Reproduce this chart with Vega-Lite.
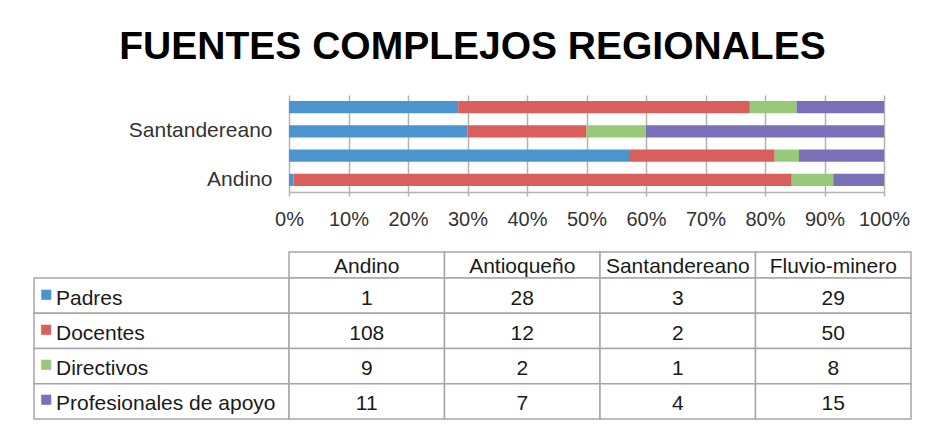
{
  "$schema": "https://vega.github.io/schema/vega-lite/v6.json",
  "title": {"text": "FUENTES COMPLEJOS REGIONALES", "fontSize": 39, "fontWeight": "bold", "color": "#000000", "anchor": "middle", "offset": 28, "font": "Liberation Sans"},
  "padding": {"left": 33, "top": 28, "right": 0, "bottom": 0},
  "background": "#ffffff",
  "config": {"view": {"stroke": null}, "font": "Liberation Sans"},
  "datasets": {
    "d": [
      {"region": "Andino", "fuente": "Padres", "valor": 1},
      {"region": "Andino", "fuente": "Docentes", "valor": 108},
      {"region": "Andino", "fuente": "Directivos", "valor": 9},
      {"region": "Andino", "fuente": "Profesionales de apoyo", "valor": 11},
      {"region": "Antioqueño", "fuente": "Padres", "valor": 28},
      {"region": "Antioqueño", "fuente": "Docentes", "valor": 12},
      {"region": "Antioqueño", "fuente": "Directivos", "valor": 2},
      {"region": "Antioqueño", "fuente": "Profesionales de apoyo", "valor": 7},
      {"region": "Santandereano", "fuente": "Padres", "valor": 3},
      {"region": "Santandereano", "fuente": "Docentes", "valor": 2},
      {"region": "Santandereano", "fuente": "Directivos", "valor": 1},
      {"region": "Santandereano", "fuente": "Profesionales de apoyo", "valor": 4},
      {"region": "Fluvio-minero", "fuente": "Padres", "valor": 29},
      {"region": "Fluvio-minero", "fuente": "Docentes", "valor": 50},
      {"region": "Fluvio-minero", "fuente": "Directivos", "valor": 8},
      {"region": "Fluvio-minero", "fuente": "Profesionales de apoyo", "valor": 15}
    ]
  },
  "bounds": "flush",
  "columns": 2,
  "spacing": {"row": 0, "column": 0},
  "concat": [
    {
      "width": 255, "height": 97,
      "data": {"name": "d"},
      "transform": [{"filter": "false"}],
      "mark": {"type": "point", "opacity": 0},
      "encoding": {}
    },
    {
      "width": 595, "height": 97,
      "data": {"name": "d"},
      "transform": [{"calculate": "indexof(['Padres','Docentes','Directivos','Profesionales de apoyo'], datum.fuente)", "as": "orden"}],
      "mark": {"type": "bar"},
      "encoding": {
        "y": {
          "field": "region", "type": "nominal",
          "sort": ["Fluvio-minero", "Santandereano", "Antioqueño", "Andino"],
          "scale": {"paddingInner": 0.5, "paddingOuter": 0.25},
          "axis": {"title": null, "values": ["Santandereano", "Andino"], "ticks": false, "domain": false, "labelFontSize": 21, "labelColor": "#333333", "labelPadding": 17}
        },
        "x": {
          "field": "valor", "type": "quantitative", "aggregate": "sum", "stack": "normalize",
          "axis": {"title": null, "values": [0, 0.1, 0.2, 0.3, 0.4, 0.5, 0.6, 0.7, 0.8, 0.9, 1], "format": ".0%", "labelFontSize": 20, "labelColor": "#333333", "labelPadding": 13, "labelFlush": false, "gridColor": "#b3b3b3", "gridWidth": 1.5, "domainColor": "#b3b3b3", "domainWidth": 1.5, "tickColor": "#b3b3b3", "tickSize": 4, "tickWidth": 1.5}
        },
        "color": {
          "field": "fuente", "type": "nominal",
          "sort": ["Padres", "Docentes", "Directivos", "Profesionales de apoyo"],
          "scale": {"domain": ["Padres", "Docentes", "Directivos", "Profesionales de apoyo"], "range": ["#4a95cf", "#d95f5a", "#97c979", "#7a71b8"]},
          "legend": null
        },
        "order": {"field": "orden", "type": "quantitative", "sort": "ascending"}
      }
    },
    {
      "width": 255, "height": 60,
      "data": {"name": "d"},
      "transform": [{"filter": "false"}],
      "mark": {"type": "point", "opacity": 0},
      "encoding": {}
    },
    {
      "width": 595, "height": 60,
      "data": {"name": "d"},
      "transform": [{"filter": "false"}],
      "mark": {"type": "point", "opacity": 0},
      "encoding": {}
    },
    {
      "width": 255, "height": 26,
      "data": {"name": "d"},
      "transform": [{"filter": "false"}],
      "mark": {"type": "point", "opacity": 0},
      "encoding": {}
    },
    {
      "width": 622, "height": 26,
      "data": {"name": "d"},
      "transform": [{"filter": "datum.fuente == 'Padres'"}],
      "encoding": {
        "x": {"field": "region", "type": "nominal", "sort": ["Andino", "Antioqueño", "Santandereano", "Fluvio-minero"], "scale": {"paddingInner": 0, "paddingOuter": 0}, "axis": null}
      },
      "layer": [
        {"mark": {"type": "rect", "fill": "#ffffff", "stroke": "#a6a6a6", "strokeWidth": 1.5}},
        {"mark": {"type": "text", "fontSize": 21, "color": "#1a1a1a", "baseline": "middle", "dy": 2}, "encoding": {"text": {"field": "region"}}}
      ]
    },
    {
      "width": 255, "height": 141,
      "data": {"name": "d"},
      "transform": [{"filter": "datum.region == 'Andino'"}],
      "encoding": {
        "y": {"field": "fuente", "type": "nominal", "sort": ["Padres", "Docentes", "Directivos", "Profesionales de apoyo"], "scale": {"paddingInner": 0, "paddingOuter": 0}, "axis": null}
      },
      "layer": [
        {"mark": {"type": "rect", "fill": "#ffffff", "stroke": "#a6a6a6", "strokeWidth": 1.5}},
        {"mark": {"type": "text", "font": "DejaVu Sans", "fontSize": 13, "align": "left", "baseline": "middle", "dx": 6, "dy": -2}, "encoding": {"x": {"value": 0}, "text": {"value": "■"}, "color": {"field": "fuente", "type": "nominal", "legend": null}}},
        {"mark": {"type": "text", "fontSize": 21, "color": "#1a1a1a", "align": "left", "baseline": "middle", "dx": 22, "dy": 3}, "encoding": {"x": {"value": 0}, "text": {"field": "fuente"}}}
      ]
    },
    {
      "width": 622, "height": 141,
      "data": {"name": "d"},
      "encoding": {
        "x": {"field": "region", "type": "nominal", "sort": ["Andino", "Antioqueño", "Santandereano", "Fluvio-minero"], "scale": {"paddingInner": 0, "paddingOuter": 0}, "axis": null},
        "y": {"field": "fuente", "type": "nominal", "sort": ["Padres", "Docentes", "Directivos", "Profesionales de apoyo"], "scale": {"paddingInner": 0, "paddingOuter": 0}, "axis": null}
      },
      "layer": [
        {"mark": {"type": "rect", "fill": "#ffffff", "stroke": "#a6a6a6", "strokeWidth": 1.5}},
        {"mark": {"type": "text", "fontSize": 21, "color": "#1a1a1a", "baseline": "middle", "dy": 3}, "encoding": {"text": {"field": "valor", "type": "quantitative"}}}
      ]
    }
  ]
}
